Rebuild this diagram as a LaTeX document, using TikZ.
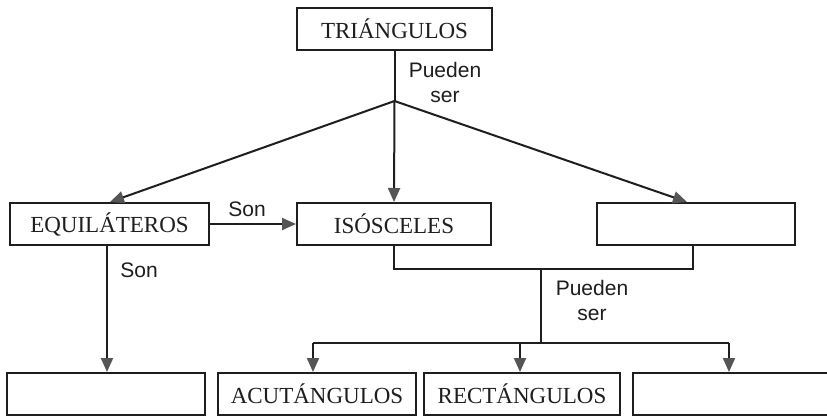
\documentclass[tikz,border=0pt]{standalone}
\usepackage{fontspec}
\newfontfamily\lblfont{Liberation Sans}
\newfontfamily\boxfont{Liberation Serif}
\usetikzlibrary{arrows.meta}
\definecolor{ink}{HTML}{1E1E1E}
\definecolor{tipgray}{HTML}{555555}
\begin{document}
\begin{tikzpicture}[x=1pt,y=-1pt,
  box/.style={draw=ink,line width=2pt,minimum height=42pt,inner sep=0pt,
    font=\boxfont\fontsize{23}{26}\selectfont,text=ink},
  lbl/.style={font=\lblfont\fontsize{21}{25}\selectfont,text=ink,align=center,inner sep=0pt},
  conn/.style={draw=ink,line width=2pt},
  arr/.style={conn,-{Triangle[length=14pt,width=12pt,color=tipgray]}}]
\useasboundingbox (0,0) rectangle (827,416);
\fill[white] (0,0) rectangle (827,416);
% boxes
\node[box,minimum width=195pt] (T) at (394.5,28.5) {TRIÁNGULOS};
\node[box,minimum width=199pt] (EQ) at (109.5,224) {EQUILÁTEROS};
\node[box,minimum width=194pt] (IS) at (394,224) {ISÓSCELES};
\node[box,minimum width=198pt] (R) at (696,224) {};
\node[box,minimum width=198pt] (B1) at (106,394) {};
\node[box,minimum width=198pt] (AC) at (317,394) {ACUTÁNGULOS};
\node[box,minimum width=196pt] (RE) at (522,394) {RECTÁNGULOS};
\node[box,minimum width=197pt] (B4) at (731.5,394) {};
% labels
\node[lbl] (L1) at (445,82) {Pueden\\ser};
\node[lbl] (L2) at (592,300) {Pueden\\ser};
\node[lbl] (L3) at (247,209) {Son};
\node[lbl] (L4) at (139,270) {Son};
% junctions
\coordinate (J) at (T.south |- 0,101);
\coordinate (K1) at (IS.south |- 0,269);
\coordinate (K2) at ([xshift=-3pt]R.south |- 0,269);
\coordinate (KM) at (541,269);
\coordinate (H) at (541,343);
\coordinate (HL) at ([xshift=-4pt]AC.north |- H);
\coordinate (HM) at ([xshift=-2pt]RE.north |- H);
\coordinate (HR) at ([xshift=-2.5pt]B4.north |- H);
% connectors
\draw[conn] (T.south) -- (J);
\draw[arr] (J) -- ([xshift=0.5pt]EQ.north);
\draw[arr] (J) -- (IS.north);
\draw[arr] (J) -- ([xshift=-9pt]R.north);
\draw[arr] (EQ.east) -- (IS.west);
\draw[arr] ([xshift=-2.5pt]EQ.south) -- ([xshift=-2.5pt]EQ.south |- B1.north);
\draw[conn] (IS.south) -- (K1) -- (K2) -- ([xshift=-3pt]R.south);
\draw[conn] (KM) -- (H);
\draw[conn] (HL) -- (HR);
\draw[arr] (HL) -- ([xshift=-4pt]AC.north);
\draw[arr] (HM) -- ([xshift=-2pt]RE.north);
\draw[arr] (HR) -- ([xshift=-2.5pt]B4.north);
\end{tikzpicture}
\end{document}
